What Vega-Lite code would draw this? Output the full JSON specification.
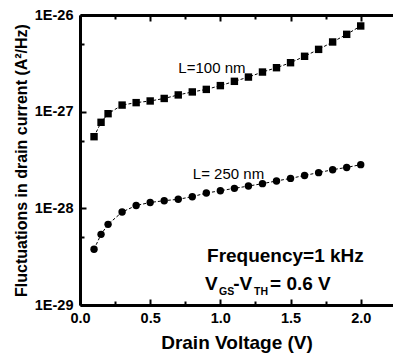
{
  "$schema": "https://vega.github.io/schema/vega-lite/v6.json",
  "width": 313,
  "height": 290,
  "autosize": {"type": "none"},
  "padding": {"left": 80, "top": 15, "right": 0, "bottom": 57},
  "config": {
    "font": "Liberation Sans",
    "view": {"stroke": null},
    "axis": {"grid": false, "domainColor": "black", "domainWidth": 3, "tickColor": "black", "tickWidth": 2, "labelColor": "black", "titleColor": "black"}
  },
  "datasets": {
    "meas": [
      {"vd": 0.1, "s": 5.51e-28, "series": "L=100 nm"},
      {"vd": 0.15, "s": 7.76e-28, "series": "L=100 nm"},
      {"vd": 0.2, "s": 9.53e-28, "series": "L=100 nm"},
      {"vd": 0.3, "s": 1.17e-27, "series": "L=100 nm"},
      {"vd": 0.4, "s": 1.24e-27, "series": "L=100 nm"},
      {"vd": 0.5, "s": 1.29e-27, "series": "L=100 nm"},
      {"vd": 0.6, "s": 1.37e-27, "series": "L=100 nm"},
      {"vd": 0.7, "s": 1.49e-27, "series": "L=100 nm"},
      {"vd": 0.8, "s": 1.6e-27, "series": "L=100 nm"},
      {"vd": 0.9, "s": 1.7e-27, "series": "L=100 nm"},
      {"vd": 1.0, "s": 1.86e-27, "series": "L=100 nm"},
      {"vd": 1.1, "s": 2.06e-27, "series": "L=100 nm"},
      {"vd": 1.2, "s": 2.28e-27, "series": "L=100 nm"},
      {"vd": 1.3, "s": 2.57e-27, "series": "L=100 nm"},
      {"vd": 1.4, "s": 2.85e-27, "series": "L=100 nm"},
      {"vd": 1.5, "s": 3.21e-27, "series": "L=100 nm"},
      {"vd": 1.6, "s": 3.74e-27, "series": "L=100 nm"},
      {"vd": 1.7, "s": 4.41e-27, "series": "L=100 nm"},
      {"vd": 1.8, "s": 5.26e-27, "series": "L=100 nm"},
      {"vd": 1.9, "s": 6.31e-27, "series": "L=100 nm"},
      {"vd": 2.0, "s": 7.7e-27, "series": "L=100 nm"},
      {"vd": 0.1, "s": 3.77e-29, "series": "L=250 nm"},
      {"vd": 0.15, "s": 5.38e-29, "series": "L=250 nm"},
      {"vd": 0.2, "s": 6.83e-29, "series": "L=250 nm"},
      {"vd": 0.3, "s": 9.16e-29, "series": "L=250 nm"},
      {"vd": 0.4, "s": 1.07e-28, "series": "L=250 nm"},
      {"vd": 0.5, "s": 1.15e-28, "series": "L=250 nm"},
      {"vd": 0.6, "s": 1.2e-28, "series": "L=250 nm"},
      {"vd": 0.7, "s": 1.24e-28, "series": "L=250 nm"},
      {"vd": 0.8, "s": 1.32e-28, "series": "L=250 nm"},
      {"vd": 0.9, "s": 1.44e-28, "series": "L=250 nm"},
      {"vd": 1.0, "s": 1.52e-28, "series": "L=250 nm"},
      {"vd": 1.1, "s": 1.61e-28, "series": "L=250 nm"},
      {"vd": 1.2, "s": 1.7e-28, "series": "L=250 nm"},
      {"vd": 1.3, "s": 1.8e-28, "series": "L=250 nm"},
      {"vd": 1.4, "s": 1.92e-28, "series": "L=250 nm"},
      {"vd": 1.5, "s": 2.04e-28, "series": "L=250 nm"},
      {"vd": 1.6, "s": 2.19e-28, "series": "L=250 nm"},
      {"vd": 1.7, "s": 2.34e-28, "series": "L=250 nm"},
      {"vd": 1.8, "s": 2.51e-28, "series": "L=250 nm"},
      {"vd": 1.9, "s": 2.65e-28, "series": "L=250 nm"},
      {"vd": 2.0, "s": 2.83e-28, "series": "L=250 nm"}
    ]
  },
  "resolve": {"axis": {"x": "independent"}},
  "layer": [
    {
      "data": {"name": "meas"},
      "mark": {"type": "line", "color": "black", "strokeWidth": 1, "strokeDash": [3, 2]},
      "encoding": {
        "x": {"field": "vd", "type": "quantitative", "scale": {"domain": [0, 2.23], "nice": false, "zero": false},
          "axis": {"orient": "top", "labels": false, "title": null, "values": [0, 0.25, 0.5, 0.75, 1, 1.25, 1.5, 1.75, 2],
            "tickSize": {"condition": {"test": "datum.value % 0.5 == 0", "value": -6}, "value": -4}}},
        "y": {"field": "s", "type": "quantitative"},
        "detail": {"field": "series"}
      }
    },
    {
      "data": {"name": "meas"},
      "mark": {"type": "point", "filled": true, "color": "black", "opacity": 1, "size": 55},
      "encoding": {
        "x": {"field": "vd", "type": "quantitative",
          "axis": {"orient": "bottom", "title": "Drain Voltage (V)", "values": [0, 0.25, 0.5, 0.75, 1, 1.25, 1.5, 1.75, 2],
            "labelExpr": "datum.value % 0.5 == 0 ? format(datum.value, '.1f') : ''",
            "labelFontSize": 14.5, "labelFontWeight": "bold", "labelPadding": 12, "labelFlush": false,
            "titleFontSize": 19, "titleFontWeight": "bold", "titlePadding": 9,
            "tickSize": {"condition": {"test": "datum.value % 0.5 == 0", "value": -6}, "value": -4}}},
        "y": {"field": "s", "type": "quantitative",
          "scale": {"type": "log", "domain": [1e-29, 1e-26], "nice": false},
          "axis": {"orient": "left", "title": "Fluctuations in drain current (A²/Hz)",
            "values": [1e-29, 5e-29, 1e-28, 5e-28, 1e-27, 5e-27, 1e-26],
            "labelExpr": "abs(log(datum.value)/LN10 - round(log(datum.value)/LN10)) < 0.01 ? '1E' + round(log(datum.value)/LN10) : ''",
            "labelFontSize": 14.5, "labelFontWeight": "bold", "labelPadding": 13, "labelFlush": false,
            "titleFontSize": 16, "titleFontWeight": "bold", "titlePadding": 5,
            "tickSize": {"condition": {"test": "abs(log(datum.value)/LN10 - round(log(datum.value)/LN10)) < 0.01", "value": -6}, "value": -4}}},
        "shape": {"field": "series", "type": "nominal", "scale": {"domain": ["L=100 nm", "L=250 nm"], "range": ["square", "circle"]}, "legend": null}
      }
    },
    {
      "data": {"values": [{"t": "L=100 nm", "x": 0.94, "y": 2.8e-27}, {"t": "L= 250 nm", "x": 1.058, "y": 2.27e-28}]},
      "mark": {"type": "text", "fontSize": 15, "color": "black", "align": "center", "baseline": "middle"},
      "encoding": {
        "x": {"field": "x", "type": "quantitative", "axis": null},
        "y": {"field": "y", "type": "quantitative"},
        "text": {"field": "t"}
      }
    },
    {
      "data": {"values": [{"t": "Frequency=1 kHz", "x": 0.905, "y": 2.8e-29}, {"t": "V", "x": 0.891, "y": 1.43e-29}, {"t": "-V", "x": 1.091, "y": 1.43e-29}, {"t": "= 0.6 V", "x": 1.354, "y": 1.43e-29}]},
      "mark": {"type": "text", "fontSize": 19, "fontWeight": "bold", "color": "black", "align": "left", "baseline": "alphabetic"},
      "encoding": {
        "x": {"field": "x", "type": "quantitative", "axis": null},
        "y": {"field": "y", "type": "quantitative"},
        "text": {"field": "t"}
      }
    },
    {
      "data": {"values": [{"t": "GS", "x": 0.991, "y": 1.27e-29}, {"t": "TH", "x": 1.24, "y": 1.27e-29}]},
      "mark": {"type": "text", "fontSize": 10.5, "fontWeight": "bold", "color": "black", "align": "left", "baseline": "alphabetic"},
      "encoding": {
        "x": {"field": "x", "type": "quantitative", "axis": null},
        "y": {"field": "y", "type": "quantitative"},
        "text": {"field": "t"}
      }
    }
  ]
}
